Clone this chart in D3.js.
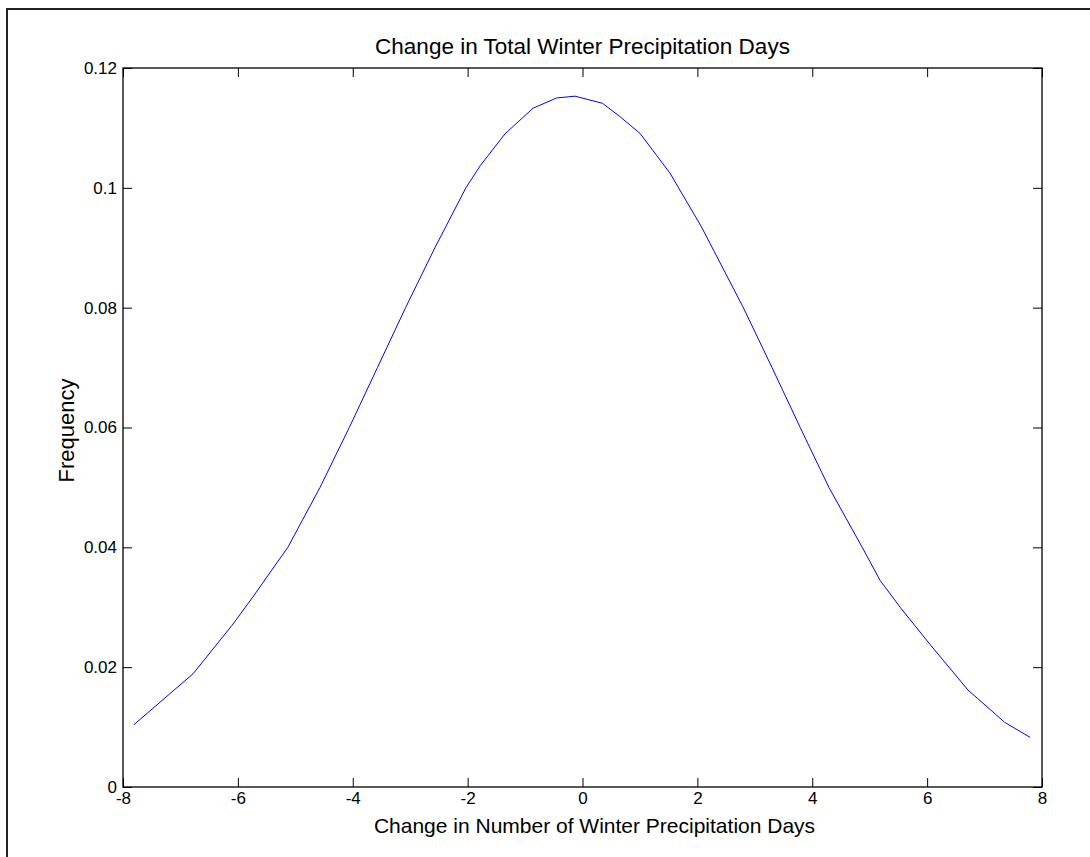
<!DOCTYPE html>
<html>
<head>
<meta charset="utf-8">
<script src="https://cdn.jsdelivr.net/npm/d3@7"></script>
<style>
html,body{margin:0;padding:0;background:#fff;}
svg{display:block;}
text{font-family:"Liberation Sans",Arial,sans-serif;fill:#000;}
</style>
</head>
<body>
<script>
const xValues = [-7.81, -6.78, -6.10, -5.74, -5.41, -5.13, -4.57, -4.06, -3.57, -3.08, -2.57, -2.03, -1.78, -1.35, -0.86, -0.45, -0.13, 0.35, 0.65, 1.0, 1.52, 2.07, 2.79, 3.30, 3.79, 4.29, 4.87, 5.18, 5.53, 6.05, 6.71, 7.35, 7.79];
const freqValues = [0.0104, 0.0189, 0.0270, 0.0317, 0.0362, 0.0400, 0.0500, 0.0600, 0.0700, 0.0800, 0.0900, 0.1000, 0.1037, 0.1090, 0.1133, 0.1150, 0.1153, 0.1141, 0.1119, 0.1091, 0.1025, 0.0935, 0.0802, 0.0700, 0.0600, 0.0500, 0.0400, 0.0345, 0.0300, 0.0238, 0.0162, 0.0108, 0.0083];
const xTicks = [-8, -6, -4, -2, 0, 2, 4, 6, 8];
const yTicks = [0, 0.02, 0.04, 0.06, 0.08, 0.1, 0.12];
const titleText = "Change in Total Winter Precipitation Days";
const xLabelText = "Change in Number of Winter Precipitation Days";
const yLabelText = "Frequency";

const W = 1090, H = 857;
const L = 123, R = 1042, T = 68, B = 787;
const svg = d3.select("body").append("svg").attr("width", W).attr("height", H);

// outer frame
svg.append("rect").attr("x", 7).attr("y", 9).attr("width", W + 20).attr("height", H + 20)
  .attr("fill", "none").attr("stroke", "#222").attr("stroke-width", 2);

const x = d3.scaleLinear().domain([-8, 8]).range([L, R]);
const y = d3.scaleLinear().domain([0, 0.12]).range([B, T]);
const tl = 9;

const fmtX = d => String(d);
const fmtY = d => String(+d.toFixed(2));

const gx = svg.append("g").attr("transform", `translate(0,${B})`)
  .call(d3.axisBottom(x).tickValues(xTicks).tickSizeInner(-tl).tickSizeOuter(0).tickPadding(5).tickFormat(fmtX));
const gxt = svg.append("g").attr("transform", `translate(0,${T})`)
  .call(d3.axisTop(x).tickValues(xTicks).tickSizeInner(-tl).tickSizeOuter(0).tickFormat(""));
const gy = svg.append("g").attr("transform", `translate(${L},0)`)
  .call(d3.axisLeft(y).tickValues(yTicks).tickSizeInner(-tl).tickSizeOuter(0).tickPadding(6).tickFormat(fmtY));
const gyr = svg.append("g").attr("transform", `translate(${R},0)`)
  .call(d3.axisRight(y).tickValues(yTicks).tickSizeInner(-tl).tickSizeOuter(0).tickFormat(""));

[gx, gxt, gy, gyr].forEach(g => {
  g.attr("font-size", null).attr("font-family", null);
  g.select(".domain").remove();
  g.selectAll("line").attr("stroke", "#000").attr("stroke-width", 1);
  g.selectAll("text").style("font-family", "'Liberation Sans', Arial, sans-serif").style("font-size", "17px").attr("fill", "#000");
});
gx.selectAll(".tick text").attr("dy", "0.71em");
gy.selectAll(".tick text").attr("dy", "0.32em");

svg.append("rect").attr("x", L).attr("y", T).attr("width", R - L).attr("height", B - T)
  .attr("fill", "none").attr("stroke", "#000").attr("stroke-width", 1.3);

const line = d3.line().x((d, i) => x(xValues[i])).y((d, i) => y(freqValues[i]));
svg.append("path").datum(freqValues).attr("d", line)
  .attr("fill", "none").attr("stroke", "#0000ff").attr("stroke-width", 1);

svg.append("text").attr("x", (L + R) / 2).attr("y", 54).attr("text-anchor", "middle")
  .style("font-size", "22.5px").text(titleText);
svg.append("text").attr("x", (L + R) / 2 + 12).attr("y", 833).attr("text-anchor", "middle")
  .style("font-size", "21px").text(xLabelText);
svg.append("text").attr("transform", `translate(74,${(T + B) / 2 + 3}) rotate(-90)`).attr("text-anchor", "middle")
  .style("font-size", "22px").text(yLabelText);
</script>
</body>
</html>
